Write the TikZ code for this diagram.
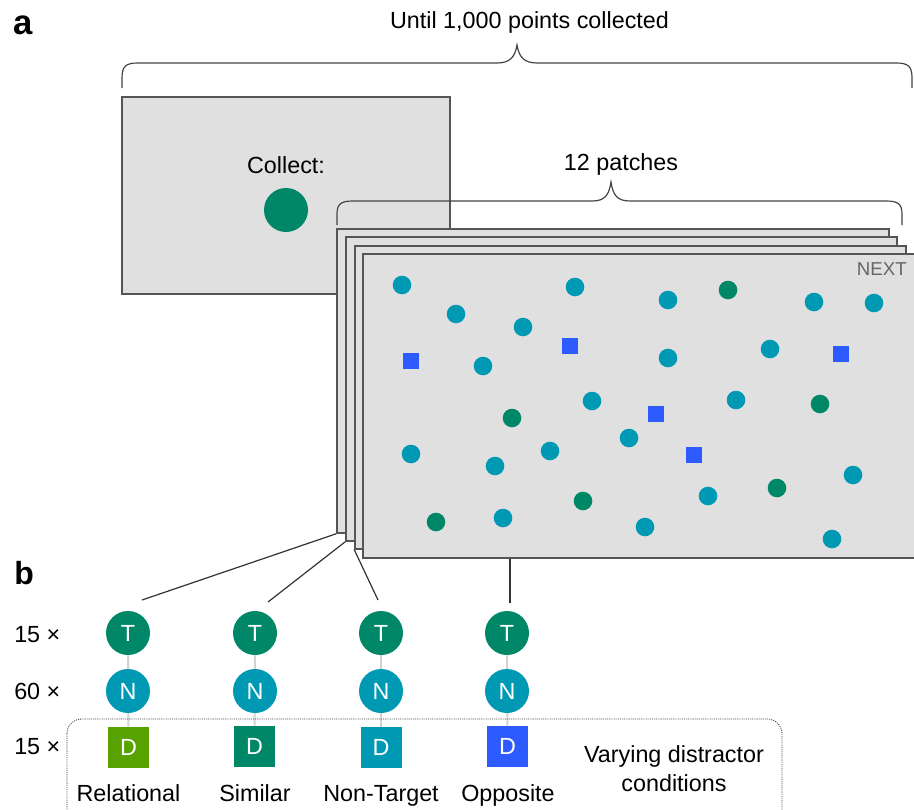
\documentclass[tikz,border=0pt]{standalone}
\usepackage{fontspec}
\setmainfont{Liberation Sans}
\usetikzlibrary{fit,calc,backgrounds}
\definecolor{dotteal}{HTML}{0099B4}
\definecolor{dotgreen}{HTML}{008767}
\definecolor{dotblue}{HTML}{2E5BFF}
\definecolor{dotlime}{HTML}{58A300}
\definecolor{panelgray}{HTML}{E0E0E0}
\definecolor{framegray}{HTML}{555555}
\definecolor{bracegray}{HTML}{444444}
\definecolor{linkgray}{HTML}{D2D2D2}
\begin{document}
\begin{tikzpicture}[x=0.75pt,y=-0.75pt,
  txt/.style={font=\fontsize{17.5}{21}\selectfont, inner sep=0pt},
  panel/.style={draw=framegray, fill=panelgray, line width=1.1pt, inner sep=0pt},
  bracepath/.style={draw=bracegray, line width=0.9pt},
  tnode/.style={circle, fill=dotgreen, minimum size=33pt, inner sep=0pt, text=white, font=\fontsize{17.5}{21}\selectfont},
  nnode/.style={tnode, fill=dotteal},
  dnode/.style={rectangle, minimum size=30.75pt, inner sep=0pt, text=white, font=\fontsize{17.5}{21}\selectfont},
  conn/.style={draw=black!80, line width=0.9pt},
  link/.style={draw=linkgray, line width=1.5pt},
  dotbox/.style={draw=black!75, line width=0.6pt, dash pattern=on 0.8pt off 0.8pt, rounded corners=11pt},
  panellabel/.style={font=\bfseries\fontsize{26}{30}\selectfont, inner sep=0pt}
]
\useasboundingbox (0,0) rectangle (914,810);
\clip (0,0) rectangle (914,810);

% panel labels
\node[panellabel, anchor=base west] (la) at (13,34) {a};
\node[panellabel, anchor=base west, font=\bfseries\fontsize{24}{28}\selectfont] (lb) at (14,584) {b};

% top brace
\node[txt, anchor=base] (until) at (529.5,28) {Until 1,000 points collected};
\draw[bracepath] (122,88) -- (122,78) .. controls (122,66) and (126,63) .. (138,63)
  -- (497,63) .. controls (510,63) and (515,57) .. (517,45)
  .. controls (519,57) and (524,63) .. (537,63)
  -- (896,63) .. controls (908,63) and (912,66) .. (912,78) -- (912,88);

% collect screen
\node[panel, fit={(122,97) (450,294)}] (collect) {};
\node[txt, anchor=base] (collecttxt) at (286,173) {Collect:};
\node[circle, fill=dotgreen, minimum size=33pt, inner sep=0pt] (target) at (286,210) {};

% patches brace
\node[txt, anchor=base] (patches) at (621,170) {12 patches};
\draw[bracepath] (337,225) -- (337,214) .. controls (337,204) and (341,201) .. (353,201)
  -- (592,201) .. controls (605,201) and (609,195) .. (611,182)
  .. controls (613,195) and (617,201) .. (630,201)
  -- (886,201) .. controls (898,201) and (902,204) .. (902,214) -- (902,225);

% stack of patches
\node[panel, fit={(337,229) (889,533)}] (f1) {};
\node[panel, fit={(346,237) (897,541)}] (f2) {};
\node[panel, fit={(355,246) (906,549)}] (f3) {};
\node[panel, fit={(363,254) (930,558)}] (f4) {};
\node[anchor=base east, inner sep=0pt, text=black!60, font=\fontsize{14}{16}\selectfont] (next) at (907,275) {NEXT};

% items on the patch
\foreach \x/\y in {402/285, 456/314, 523/327, 575/287, 668/300, 814/302, 874/303,
  483/366, 668/358, 770/349, 592/401, 736/400, 629/438, 411/454, 495/466, 550/451,
  853/475, 708/496, 503/518, 645/527, 832/539}
  \fill[dotteal] (\x,\y) circle (9.3);
\foreach \x/\y in {728/290, 512/418, 820/404, 583/501, 777/488, 436/522}
  \fill[dotgreen] (\x,\y) circle (9.3);
\foreach \x/\y in {411/361, 570/346, 656/414, 841/354, 694/455}
  \fill[dotblue] ($(\x,\y)+(-8,-8)$) rectangle ++(16,16);

% part b nodes
\node[tnode] (T1) at (128,633) {T};
\node[tnode] (T2) at (255,633) {T};
\node[tnode] (T3) at (381,633) {T};
\node[tnode] (T4) at (507,633) {T};
\node[nnode] (N1) at (128,691) {N};
\node[nnode] (N2) at (255,691) {N};
\node[nnode] (N3) at (381,691) {N};
\node[nnode] (N4) at (507,691) {N};
\node[dnode, fill=dotlime] (D1) at (128.5,747.5) {D};
\node[dnode, fill=dotgreen] (D2) at (254.5,746.5) {D};
\node[dnode, fill=dotteal] (D3) at (381,747.5) {D};
\node[dnode, fill=dotblue] (D4) at (507.5,746.5) {D};

\begin{scope}[on background layer]
  \foreach \i in {1,2,3,4} \draw[link] (T\i) -- (D\i);
\end{scope}

% connectors from patches
\coordinate (e1) at (142,600);
\coordinate (e2) at (268,602);
\coordinate (e3) at (378,600);
\coordinate (e4) at (510,603);
\draw[conn] (f1.south west) -- (e1);
\draw[conn] (f2.south west) -- (e2);
\draw[conn] (f3.south west) -- (e3);
\draw[conn] (f4.south west -| e4) -- (e4);

% row labels
\node[txt, anchor=base west] (r1) at (14,642) {15 ×};
\node[txt, anchor=base west] (r2) at (14,699) {60 ×};
\node[txt, anchor=base west] (r3) at (14,754) {15 ×};

% condition labels
\node[txt, anchor=base] (c1) at (128.5,801) {Relational};
\node[txt, anchor=base] (c2) at (255,801) {Similar};
\node[txt, anchor=base] (c3) at (381,801) {Non-Target};
\node[txt, anchor=base] (c4) at (508,801) {Opposite};
\node[txt, anchor=base] (v1) at (674,762) {Varying distractor};
\node[txt, anchor=base] (v2) at (674,791) {conditions};

% dotted group box
\draw[dotbox] (67,719) rectangle (782,845);
\end{tikzpicture}
\end{document}
